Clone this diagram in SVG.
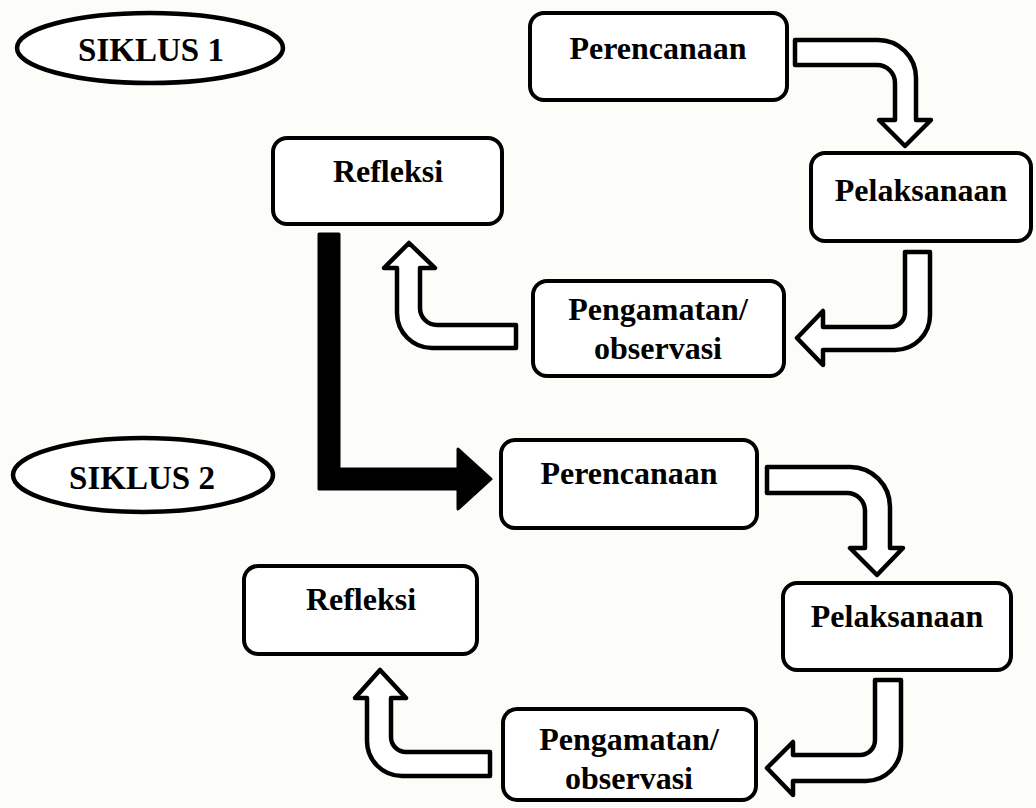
<svg xmlns="http://www.w3.org/2000/svg" width="1036" height="808" viewBox="0 0 1036 808">
<style>
.box{fill:#ffffff;stroke:#000;stroke-width:4}
.ell{fill:#ffffff;stroke:#000;stroke-width:4.5}
.t{font-family:"Liberation Serif","Times New Roman",serif;font-weight:bold;font-size:32px;fill:#000;text-anchor:middle}
.s{font-size:33px}
.arr{fill:#ffffff;stroke:#000;stroke-width:4.5;stroke-linejoin:round}
.big{fill:#000;stroke:#000;stroke-width:3;stroke-linejoin:round}
</style>
<rect x="0" y="0" width="1036" height="808" fill="#fcfcf9"/>
<g id="siklus1">
<ellipse class="ell" cx="150" cy="48" rx="133" ry="35"/>
<text class="t s" x="151" y="61">SIKLUS 1</text>
</g>
<g id="perencanaan1">
<rect class="box" x="530" y="13" width="257" height="87" rx="14"/>
<text class="t" x="658" y="59">Perencanaan</text>
</g>
<g id="pelaksanaan1">
<rect class="box" x="811" y="153" width="220" height="88" rx="14"/>
<text class="t" x="921" y="201">Pelaksanaan</text>
</g>
<g id="pengamatan1">
<rect class="box" x="533" y="281" width="251" height="95" rx="14"/>
<text class="t" x="658" y="320">Pengamatan/</text>
<text class="t" x="658" y="359">observasi</text>
</g>
<g id="refleksi1">
<rect class="box" x="273" y="138" width="229" height="86" rx="14"/>
<text class="t" x="388" y="182">Refleksi</text>
</g>
<g id="siklus2">
<ellipse class="ell" cx="143" cy="475" rx="130" ry="37"/>
<text class="t s" x="142" y="489">SIKLUS 2</text>
</g>
<g id="perencanaan2">
<rect class="box" x="501" y="440" width="256" height="88" rx="14"/>
<text class="t" x="629" y="484">Perencanaan</text>
</g>
<g id="pelaksanaan2">
<rect class="box" x="783" y="583" width="228" height="87" rx="14"/>
<text class="t" x="897" y="627">Pelaksanaan</text>
</g>
<g id="pengamatan2">
<rect class="box" x="503" y="709" width="253" height="91" rx="14"/>
<text class="t" x="629" y="750">Pengamatan/</text>
<text class="t" x="629" y="789">observasi</text>
</g>
<g id="refleksi2">
<rect class="box" x="244" y="566" width="233" height="88" rx="14"/>
<text class="t" x="361" y="610">Refleksi</text>
</g>
<g id="connectors">
<path class="arr" d="M 795 40 L 878 40 A 38 38 0 0 1 916 78 L 916 120 L 931 120 L 905 146 L 879 120 L 895 120 L 895 83 A 18 18 0 0 0 877 65 L 795 65 Z"/>
<path class="arr" d="M 905 252 L 930 252 L 930 315 A 35 35 0 0 1 895 350 L 823 350 L 823 365 L 797 338 L 823 311 L 823 327 L 890 327 A 15 15 0 0 0 905 312 Z"/>
<path class="arr" d="M 516 325 L 516 348 L 432 348 A 35 35 0 0 1 397 313 L 397 268 L 384 268 L 409 243 L 435 268 L 420 268 L 420 308 A 17 17 0 0 0 437 325 Z"/>
<path class="big" d="M 319 234 L 339 234 L 339 469 L 458 469 L 458 449 L 491 479 L 458 509 L 458 489 L 319 489 Z"/>
<path class="arr" d="M 767 467 L 850 467 A 40 40 0 0 1 890 507 L 890 548 L 903 548 L 877 575 L 850 548 L 865 548 L 865 511 A 18 18 0 0 0 847 493 L 767 493 Z"/>
<path class="arr" d="M 875 680 L 901 680 L 901 746 A 35 35 0 0 1 866 781 L 793 781 L 793 795 L 767 768 L 793 742 L 793 755 L 860 755 A 15 15 0 0 0 875 740 Z"/>
<path class="arr" d="M 490 752 L 490 776 L 402 776 A 35 35 0 0 1 367 741 L 367 698 L 355 698 L 380 670 L 406 698 L 391 698 L 391 737 A 15 15 0 0 0 406 752 Z"/>
</g>
</svg>
